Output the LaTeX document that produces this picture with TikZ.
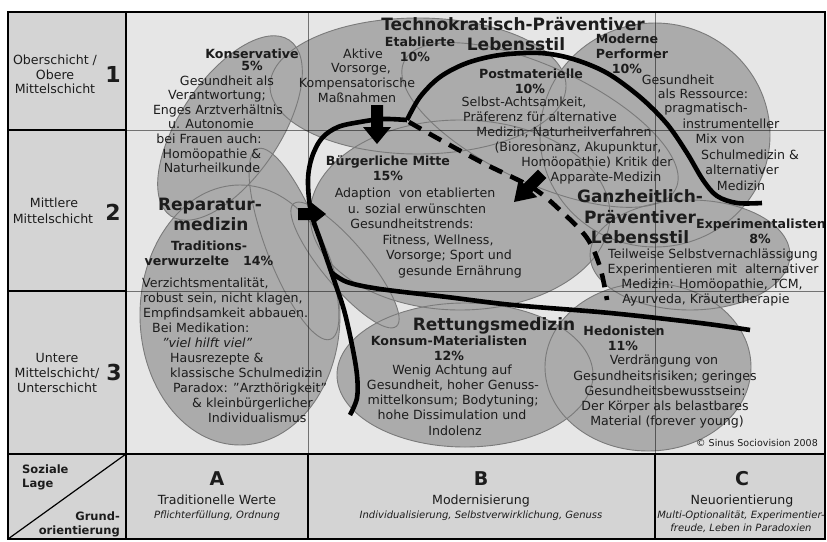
\documentclass[tikz,border=0pt]{standalone}
\usepackage{fontspec}
\setmainfont{DejaVu Sans}
\definecolor{bgmain}{HTML}{E6E6E6}
\definecolor{bgcell}{HTML}{D4D4D4}
\definecolor{blobfill}{HTML}{ABABAB}
\definecolor{blobline}{HTML}{7A7A7A}
\definecolor{ink}{HTML}{1C1C1C}
\newcommand\myblobs[1]{%
 \path[#1, rotate around={56:(230,128)}] (230,128) ellipse (106 and 50);
 \path[#1] (418,86) ellipse (148 and 68);
 \path[#1] (655,135) ellipse (115 and 112);
 \path[#1, rotate around={-25:(540,125)}] (540,125) ellipse (150 and 58);
 \path[#1] (460,215) ellipse (150 and 95);
 \path[#1, rotate around={-69:(294,244)}] (294,244) ellipse (102 and 28);
 \path[#1] (240,315) ellipse (100 and 130);
 \path[#1] (465,375) ellipse (128 and 72);
 \path[#1] (648,367) ellipse (103 and 84);
 \path[#1] (690,255) ellipse (100 and 55);
 \path[#1, rotate around={-50:(345,265)}] (345,265) ellipse (80 and 22);
}
\tikzset{
 lbl/.style={inner sep=0, anchor=base, text=ink, font=\fontsize{12.6}{15}\selectfont},
 lblw/.style={lbl, anchor=base west},
 lblb/.style={lbl, font=\fontsize{12.6}{15}\selectfont\bfseries},
 big/.style={lbl, font=\fontsize{17}{20}\selectfont\bfseries},
 num/.style={lbl, font=\fontsize{22}{24}\selectfont\bfseries},
 letter/.style={lbl, font=\fontsize{19}{22}\selectfont\bfseries},
 smallb/.style={lbl, font=\fontsize{11.5}{14}\selectfont\bfseries},
 ital/.style={lbl, font=\fontsize{10}{13}\selectfont\itshape},
 copyr/.style={lbl, font=\fontsize{9.5}{12}\selectfont},
 gridthin/.style={line width=0.9, black, opacity=0.5},
 gridthick/.style={line width=1.4, black},
 heavy/.style={line width=4.6, black},
 heavydash/.style={line width=4.6, black, dash pattern=on 14pt off 9pt},
 blockarrow/.style={fill=black}
}
\begin{document}
\begin{tikzpicture}[x=1pt,y=-1pt]
\useasboundingbox (0,0) rectangle (827,541);
\fill[white] (0,0) rectangle (827,541);
\fill[bgmain] (126,12) rectangle (825,454);
\fill[bgcell] (8,12) rectangle (126,539);
\fill[bgcell] (126,454) rectangle (825,539);
% blobs
\myblobs{fill=blobfill}
\myblobs{draw=blobline, line width=0.9}
% thin grid in the main area
\draw[gridthin] (308,12) -- (308,454);
\draw[gridthin] (655,12) -- (655,454);
\draw[gridthin] (126,130) -- (825,130);
\draw[gridthin] (126,291) -- (825,291);
% heavy curves
\draw[heavy] plot[smooth, tension=0.55] coordinates {(350,415) (357,398) (357,375) (352,345) (344,310) (334,280) (322,245) (311,212) (308,180) (312,157) (322,138) (338,127) (360,122) (383,119) (407,120)};
\draw[heavy] plot[smooth, tension=0.55] coordinates {(407,120) (420,97) (440,77) (467,63) (500,55) (540,53) (573,59) (607,73) (640,97) (667,124) (687,153) (703,180) (717,196) (737,203) (762,203)};
\draw[heavy] plot[smooth, tension=0.55] coordinates {(331,272) (347,282) (380,289) (447,297) (513,305) (610,313) (700,323) (750,330)};
\draw[heavydash] plot[smooth, tension=0.55] coordinates {(409,122) (437,138) (483,163) (533,188) (562,212) (587,238) (600,267) (607,300)};
% block arrows
\fill[blockarrow] (371,105) -- (383,105) -- (383,127) -- (391,127) -- (377,144) -- (363,127) -- (371,127) -- cycle;
\fill[blockarrow] (298,208) -- (312,208) -- (312,203) -- (326,214) -- (312,225) -- (312,220) -- (298,220) -- cycle;
\fill[blockarrow] (546.4,178.0) -- (532.3,192.1) -- (537.3,197.1) -- (514,202) -- (518.9,178.7) -- (523.9,183.7) -- (538.0,169.6) -- cycle;
% left column
\node[lbl] (o1) at (55,64.5) {Oberschicht /};
\node[lbl] (o2) at (55,79) {Obere};
\node[lbl] (o3) at (55,93.5) {Mittelschicht};
\node[num] (n1) at (113,82) {1};
\node[lbl] (m1) at (54,207.5) {Mittlere};
\node[lbl] (m2) at (53,223) {Mittelschicht};
\node[num] (n2) at (113,220) {2};
\node[lbl] (u1) at (57,362.5) {Untere};
\node[lbl] (u2) at (57,377.5) {Mittelschicht/};
\node[num] (n3) at (114,380) {3};
\node[lbl] (u3) at (57,392.5) {Unterschicht};
% bottom row
\node[smallb, anchor=base west] (sl1) at (22,473) {Soziale};
\node[smallb, anchor=base west] (sl2) at (22,487) {Lage};
\node[smallb, anchor=base east] (go1) at (120,520) {Grund-};
\node[smallb, anchor=base east] (go2) at (120,534) {orientierung};
\node[letter] (lA) at (217,485) {A};
\node[lbl] (tA) at (217,504.5) {Traditionelle Werte};
\node[ital] (iA) at (217,518) {Pflichterfüllung, Ordnung};
\node[letter] (lB) at (481,485) {B};
\node[lbl] (tB) at (481,504.5) {Modernisierung};
\node[ital] (iB) at (481,518) {Individualisierung, Selbstverwirklichung, Genuss};
\node[letter] (lC) at (742,485) {C};
\node[lbl] (tC) at (742,504.5) {Neuorientierung};
\node[ital] (iC1) at (741,518) {Multi-Optionalität, Experimentier-};
\node[ital] (iC2) at (741,531) {freude, Leben in Paradoxien};
% Konservative
\node[lblb] (ko1) at (252,58) {Konservative};
\node[lblb] (ko2) at (252,70) {5\%};
\node[lbl] (ko3) at (227,85) {Gesundheit als};
\node[lbl] (ko4) at (217,99.6) {Verantwortung;};
\node[lbl] (ko5) at (218,114.2) {Enges Arztverhältnis};
\node[lbl] (ko6) at (211,128.8) {u. Autonomie};
\node[lbl] (ko7) at (209,143.4) {bei Frauen auch:};
\node[lbl] (ko8) at (212,158) {Homöopathie \&};
\node[lbl] (ko9) at (212,172.6) {Naturheilkunde};
% Technokratisch
\node[big] (tp1) at (513,30) {Technokratisch-Präventiver};
\node[big] (tp2) at (516,50) {Lebensstil};
\node[lblb] (et1) at (420,46) {Etablierte};
\node[lblb] (et2) at (415,61) {10\%};
\node[lbl] (et3) at (363,58) {Aktive};
\node[lbl] (et4) at (361,72.5) {Vorsorge,};
\node[lbl] (et5) at (357,87.5) {Kompensatorische};
\node[lbl] (et6) at (357,102.5) {Maßnahmen};
% Moderne Performer
\node[lblb] (mp1) at (627,43) {Moderne};
\node[lblb] (mp2) at (632,58) {Performer};
\node[lblb] (mp3) at (627,73) {10\%};
\node[lbl] (mp4) at (678,84) {Gesundheit};
\node[lbl] (mp5) at (703,98) {als Ressource:};
\node[lbl] (mp6) at (706,112.5) {pragmatisch-};
\node[lbl] (mp7) at (731,128) {instrumenteller};
\node[lbl] (mp8) at (720,143.5) {Mix von};
\node[lbl] (mp9) at (750,159) {Schulmedizin \&};
\node[lbl] (mp10) at (742,174.5) {alternativer};
\node[lbl] (mp11) at (741,190) {Medizin};
% Postmaterielle
\node[lblb] (pm1) at (531,78) {Postmaterielle};
\node[lblb] (pm2) at (530,93) {10\%};
\node[lbl] (pm3) at (524,106) {Selbst-Achtsamkeit,};
\node[lbl] (pm4) at (540,121.5) {Präferenz für alternative};
\node[lbl] (pm5) at (564,136.5) {Medizin, Naturheilverfahren};
\node[lbl] (pm6) at (578,151) {(Bioresonanz, Akupunktur,};
\node[lbl] (pm7) at (597,166) {Homöopathie) Kritik der};
\node[lbl] (pm8) at (606,181) {Apparate-Medizin};
% Buergerliche Mitte
\node[lblb] (bm1) at (388,165) {Bürgerliche Mitte};
\node[lblb] (bm2) at (388,180) {15\%};
\node[lbl] (bm3) at (415,197.5) {Adaption~~von etablierten};
\node[lbl] (bm4) at (417,213) {u. sozial erwünschten};
\node[lbl] (bm5) at (412,228.5) {Gesundheitstrends:};
\node[lbl] (bm6) at (438,244) {Fitness, Wellness,};
\node[lbl] (bm7) at (449,259.5) {Vorsorge; Sport und};
\node[lbl] (bm8) at (460,275) {gesunde Ernährung};
% Ganzheitlich
\node[big] (gp1) at (640,202) {Ganzheitlich-};
\node[big] (gp2) at (640,223) {Präventiver};
\node[big] (gp3) at (640,243) {Lebensstil};
% Experimentalisten
\node[lblb] (ex1) at (761,228) {Experimentalisten};
\node[lblb] (ex2) at (760,243) {8\%};
\node[lbl] (ex3) at (713,258) {Teilweise Selbstvernachlässigung};
\node[lbl] (ex4) at (713,273) {Experimentieren mit~~alternativer};
\node[lbl] (ex5) at (712,288) {Medizin: Homöopathie, TCM,};
\node[lbl] (ex6) at (706,303) {Ayurveda, Kräutertherapie};
% Reparaturmedizin
\node[big] (rp1) at (210,210) {Reparatur-};
\node[big] (rp2) at (211,230) {medizin};
\node[lblb] (tv1) at (209,250) {Traditions-};
\node[lblb] (tv2) at (209,265) {verwurzelte\hspace{14pt}14\%};
\node[lblw] (tv3) at (142,287) {Verzichtsmentalität,};
\node[lblw] (tv4) at (143,302) {robust sein, nicht klagen,};
\node[lblw] (tv5) at (143,317) {Empfindsamkeit abbauen.};
\node[lblw] (tv6) at (152,332) {Bei Medikation:};
\node[lblw, font=\fontsize{12.6}{15}\selectfont\itshape] (tv7) at (162,347) {"viel hilft viel"};
\node[lblw] (tv8) at (170,362) {Hausrezepte \&};
\node[lblw] (tv9) at (170,377) {klassische Schulmedizin};
\node[lblw] (tv10) at (173,392) {Paradox: "Arzthörigkeit"};
\node[lblw] (tv11) at (192,407) {\& kleinbürgerlicher};
\node[lblw] (tv12) at (208,422.5) {Individualismus};
% Rettungsmedizin
\node[big] (rm1) at (494,330) {Rettungsmedizin};
\node[lblb] (km1) at (449,345) {Konsum-Materialisten};
\node[lblb] (km2) at (449,360) {12\%};
\node[lbl] (km3) at (452,374) {Wenig Achtung auf};
\node[lbl] (km4) at (453,389) {Gesundheit, hoher Genuss-};
\node[lbl] (km5) at (453,404) {mittelkonsum; Bodytuning;};
\node[lbl] (km6) at (452,419) {hohe Dissimulation und};
\node[lbl] (km7) at (455,435) {Indolenz};
% Hedonisten
\node[lblb] (hd1) at (624,335) {Hedonisten};
\node[lblb] (hd2) at (623,350) {11\%};
\node[lbl] (hd3) at (664,364.5) {Verdrängung von};
\node[lbl] (hd4) at (665,380) {Gesundheitsrisiken; geringes};
\node[lbl] (hd5) at (665,395) {Gesundheitsbewusstsein:};
\node[lbl] (hd6) at (665,410.5) {Der Körper als belastbares};
\node[lbl] (hd7) at (667,425.5) {Material (forever young)};
\node[copyr] (cp) at (757,446) {© Sinus Sociovision 2008};
% frame and thick grid lines
\draw[gridthick] (8,12) rectangle (825,539);
\draw[gridthick] (126,12) -- (126,539);
\draw[gridthick] (8,130) -- (126,130);
\draw[gridthick] (8,291) -- (126,291);
\draw[gridthick] (8,454) -- (825,454);
\draw[gridthick] (308,454) -- (308,539);
\draw[gridthick] (655,454) -- (655,539);
\draw[line width=1.2] (126,454) -- (8,539);
\end{tikzpicture}
\end{document}
